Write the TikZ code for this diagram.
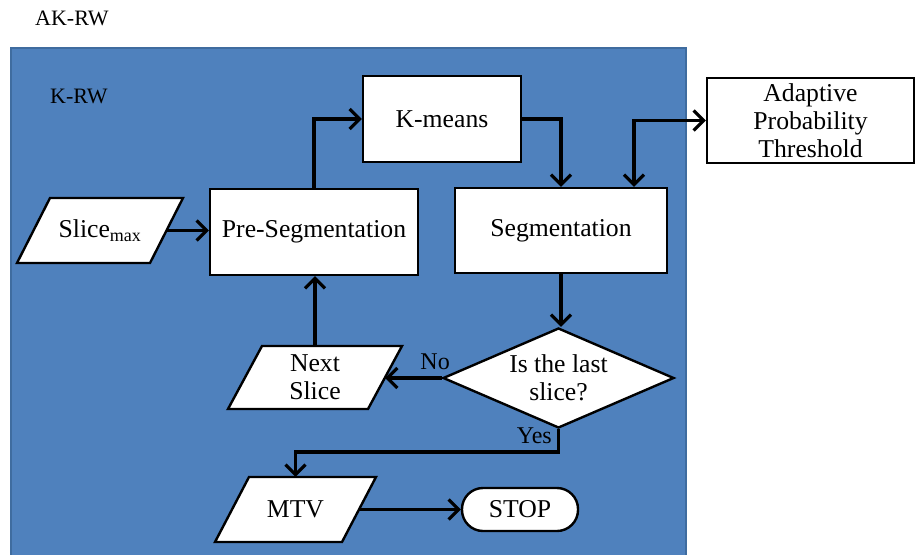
\documentclass[tikz,border=0pt]{standalone}
\usepackage{fontspec}
\setmainfont{Liberation Serif}
\usetikzlibrary{shapes.geometric,arrows.meta,calc}
\definecolor{panelblue}{HTML}{4F81BD}
\definecolor{paneledge}{HTML}{3F6C9F}
% parallelogram block: name, centre, mid width, height, slant, text
\newcommand{\ioblock}[6]{%
  \path[iofill] ($(#2)+(-#3/2-#5/2,#4/2)$) -- ($(#2)+(-#3/2+#5/2,-#4/2)$)
     -- ($(#2)+(#3/2+#5/2,-#4/2)$) -- ($(#2)+(#3/2-#5/2,#4/2)$) -- cycle;
  \node[iotext, minimum width=#3, minimum height=#4] (#1) at (#2) {#6};
}
\begin{document}
\begin{tikzpicture}[x=1pt,y=-1pt,
  every node/.style={font=\fontsize{25.7}{28}\selectfont},
  outline/.style={draw=black, line width=2.4pt, fill=white, inner sep=0pt, align=center},
  box/.style={outline, rectangle},
  iofill/.style={draw=black, line width=2.4pt, fill=white, line join=miter},
  iotext/.style={rectangle, inner sep=0pt, align=center},
  decision/.style={outline, diamond, aspect=2.31},
  terminal/.style={outline, rectangle, rounded corners=21pt},
  title/.style={font=\fontsize{22}{26}\selectfont, inner sep=0pt},
  lbl/.style={font=\fontsize{24}{28}\selectfont, inner sep=0pt},
  barb/.tip={Straight Barb[length=10pt, width=20pt, line width=3.2pt]},
  conn/.style={line width=3.4pt, -barb},
  biconn/.style={line width=3.4pt, barb-barb}
]
\useasboundingbox (0,0) rectangle (917,554);

% outer label and the K-RW panel
\node[title, anchor=base west] (akrw) at (35,25) {AK-RW};
\begin{scope}
  \clip (0,0) rectangle (917,554);
  \fill[panelblue] (11,48) rectangle (686,560);
  \draw[paneledge, line width=1.2pt] (11,560) -- (11,48) -- (686,48) -- (686,560);
\end{scope}
\node[title, anchor=base west] (krw) at (50,103) {K-RW};

% process blocks
\coordinate (slicec) at (100,230.5);
\coordinate (nextc) at (315,377.5);
\coordinate (mtvc) at (295.5,509.5);
\ioblock{slice}{slicec}{133}{65}{33}{Slice\textsubscript{max}}
\node[box, minimum width=208, minimum height=86] (pre) at (314,232) {Pre-Segmentation};
\node[box, minimum width=158, minimum height=86] (km) at (442,119) {K-means};
\node[box, minimum width=212, minimum height=85] (seg) at (561,230.5) {Segmentation};
\node[box, minimum width=207, minimum height=85] (apt) at (810.5,120.5) {Adaptive\\Probability\\Threshold};
\node[decision, minimum width=231, minimum height=100] (dec) at (558.5,378) {Is the last\\slice?};
\ioblock{next}{nextc}{140}{63}{34}{Next\\Slice}
\ioblock{mtv}{mtvc}{127}{65}{34}{MTV}
\node[terminal, minimum width=116, minimum height=43] (stop) at (520,509.5) {STOP};

% connectors
\draw[conn] (slice.east) -- (slice.east -| pre.west);
\draw[conn] (pre.north) |- (km.west);
\draw[conn] (km.east) -| (seg.north);
\coordinate (segin) at (seg.north -| 634,0);
\draw[biconn] (segin) |- (apt.west);
\draw[conn] (seg.south) -- (seg.south |- dec.north);
\draw[conn] (dec.west) -- (dec.west -| next.east);
\draw[conn] (next.north) -- (next.north |- pre.south);
\coordinate (yesbend) at (dec.south |- 0,452);
\draw[conn] (dec.south) -- (yesbend) -| (mtv.north);
\draw[conn] (mtv.east) -- (stop.west);

% branch labels
\node[lbl, anchor=base east] (no) at (450,369) {No};
\node[lbl, anchor=base east] (yes) at (552,443) {Yes};
\end{tikzpicture}
\end{document}
